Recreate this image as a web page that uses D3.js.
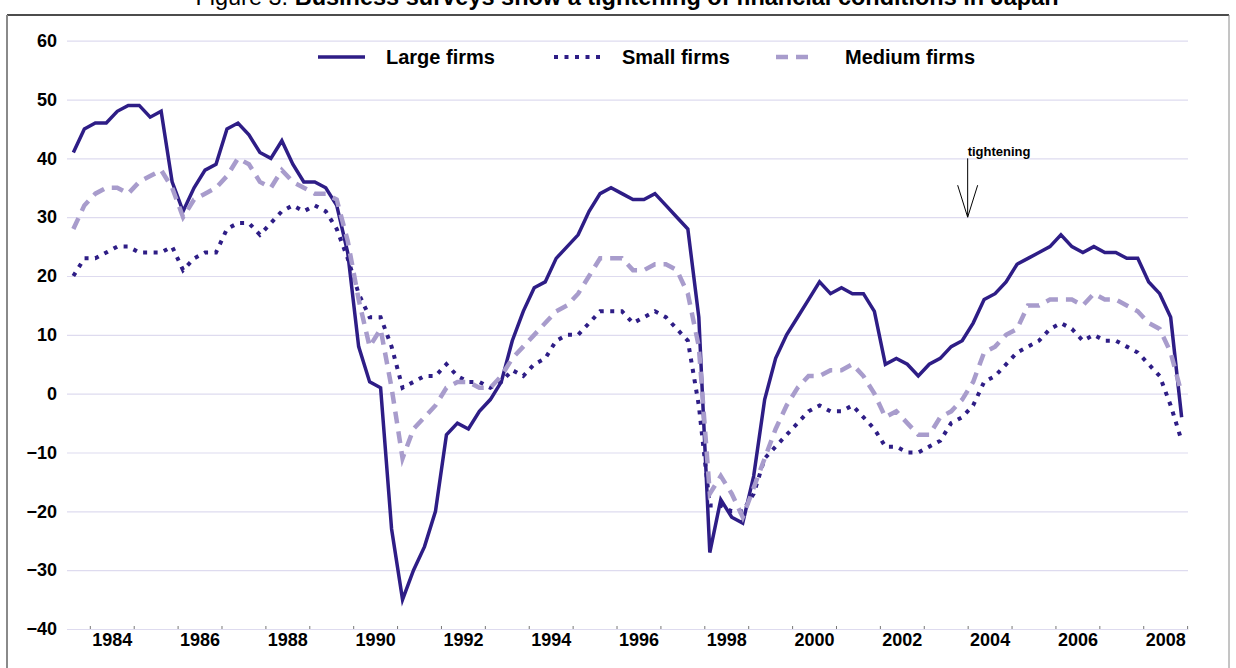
<!DOCTYPE html>
<meta charset="utf-8">
<head>
	<script src="https://d3js.org/d3.v7.min.js"></script>
	<style>
		body {
			margin: 0;
			background: #fff;
		}
		svg text {
			font-family: "Liberation Sans", Arial, sans-serif;
			fill: #000;
		}
		.grid line {
			stroke: #dedbef;
			stroke-width: 1.2;
		}
		.grid path {
			display: none;
		}
		.y.axis text {
			font-size: 18px;
			font-weight: bold;
		}
		.x.axis path {
			stroke: #dedbef;
			stroke-width: 1.2;
		}
		.x.axis line {
			stroke: #777;
		}
		.xlabels path, .xlabels line {
			display: none;
		}
		.xlabels text {
			font-size: 18px;
			font-weight: bold;
		}
		.series {
			fill: none;
		}
		.legend text {
			font-size: 20px;
			font-weight: bold;
		}
	</style>
</head>

<body>
	<div id="chart"></div>
</body>

<script type="text/javascript">

	// quarterly survey, first point 1983 Q3
	var firstYear = 1983, firstQuarter = 3;

	var largeFirms = [41, 45, 46, 46, 48, 49, 49, 47, 48, 36,
		31, 35, 38, 39, 45, 46, 44, 41, 40, 43,
		39, 36, 36, 35, 32, 24, 8, 2, 1, -23,
		-35, -30, -26, -20, -7, -5, -6, -3, -1, 2,
		9, 14, 18, 19, 23, 25, 27, 31, 34, 35,
		34, 33, 33, 34, 32, 30, 28, 13, -27, -18,
		-21, -22, -14, -1, 6, 10, 13, 16, 19, 17,
		18, 17, 17, 14, 5, 6, 5, 3, 5, 6,
		8, 9, 12, 16, 17, 19, 22, 23, 24, 25,
		27, 25, 24, 25, 24, 24, 23, 23, 19, 17,
		13, -4];

	var smallFirms = [20, 23, 23, 24, 25, 25, 24, 24, 24, 25,
		21, 23, 24, 24, 28, 29, 29, 27, 29, 31,
		32, 31, 32, 31, 28, 23, 17, 13, 13, 8,
		1, 2, 3, 3, 5, 3, 2, 2, 1, 2,
		4, 3, 5, 6, 9, 10, 10, 12, 14, 14,
		14, 12, 13, 14, 13, 11, 9, -2, -19, -19,
		-20, -20, -17, -11, -9, -7, -5, -3, -2, -3,
		-3, -2, -4, -6, -9, -9, -10, -10, -9, -8,
		-5, -4, -2, 2, 3, 5, 7, 8, 9, 11,
		12, 11, 9, 10, 9, 9, 8, 7, 5, 3,
		-2, -8];

	var mediumFirms = [28, 32, 34, 35, 35, 34, 36, 37, 38, 35,
		30, 33, 34, 35, 37, 40, 39, 36, 35, 38,
		36, 35, 34, 34, 33, 26, 16, 8, 11, 1,
		-11, -6, -4, -2, 1, 2, 2, 1, 1, 3,
		6, 8, 10, 12, 14, 15, 17, 20, 23, 23,
		23, 21, 21, 22, 22, 21, 17, 8, -17, -14,
		-17, -21, -16, -11, -6, -2, 1, 3, 3, 4,
		4, 5, 3, 0, -4, -3, -5, -7, -7, -4,
		-3, -1, 2, 7, 8, 10, 11, 15, 15, 16,
		16, 16, 15, 17, 16, 16, 15, 14, 12, 11,
		7, 0];

	var yTicks = [-40, -30, -20, -10, 0, 10, 20, 30, 40, 50, 60];
	var yearTicks = d3.range(1984, 2010);
	var yearLabels = [1984, 1986, 1988, 1990, 1992, 1994, 1996, 1998, 2000, 2002, 2004, 2006, 2008];
	var legendNames = ["Large firms", "Small firms", "Medium firms"];
	var titleLead = "Figure 3. ";
	var titleText = "Business surveys show a tightening of financial conditions in Japan";
	var noteText = "tightening";
	var noteYear = 2004, noteFrom = 40, noteTo = 30;

	// mid-quarter position in decimal years
	var quarters = largeFirms.map(function(d, i) {
		var q = firstQuarter - 1 + i;
		return firstYear + Math.floor(q / 4) + (q % 4) * 0.25 + 0.125;
	});

	var W = 1236, H = 668;
	var plot = {left: 67, right: 1188, top: 40.7, bottom: 629};

	var x = d3.scaleLinear()
		.domain([1983.48, 2009.02])
		.range([plot.left, plot.right]);

	var y = d3.scaleLinear()
		.domain([-40, 60])
		.range([plot.bottom, plot.top]);

	var svg = d3.select("#chart").append("svg")
		.attr("width", W)
		.attr("height", H);

	// frame and title
	svg.append("line")
		.attr("x1", 7).attr("x2", 1229)
		.attr("y1", 15).attr("y2", 15)
		.style("stroke", "#111").style("stroke-width", 1.5);
	svg.append("line")
		.attr("x1", 7).attr("x2", 7)
		.attr("y1", 15).attr("y2", H)
		.style("stroke", "#8a8a8a").style("stroke-width", 2);
	svg.append("line")
		.attr("x1", 1229).attr("x2", 1229)
		.attr("y1", 15).attr("y2", H)
		.style("stroke", "#8a8a8a").style("stroke-width", 1);

	// title sits mostly above the page edge, as in the source
	var title = svg.append("text")
		.attr("x", 627)
		.attr("y", 5)
		.style("text-anchor", "middle")
		.style("font-size", "23.5px");
	title.append("tspan").text(titleLead);
	title.append("tspan").style("font-weight", "bold").text(titleText);

	// horizontal grid + y labels
	var yAxis = d3.axisLeft(y)
		.tickValues(yTicks)
		.tickSizeInner(-(plot.right - plot.left))
		.tickSizeOuter(0)
		.tickPadding(10);

	svg.append("g")
		.attr("class", "grid y axis")
		.attr("transform", "translate(" + plot.left + ",0)")
		.call(yAxis);

	// x axis: year ticks pointing up, labels centred on the year
	var xAxis = d3.axisBottom(x)
		.tickValues(yearTicks)
		.tickSizeInner(-3)
		.tickSizeOuter(0)
		.tickFormat("");

	svg.append("g")
		.attr("class", "x axis")
		.attr("transform", "translate(0," + plot.bottom + ")")
		.call(xAxis);

	var xLabels = d3.axisBottom(x)
		.tickValues(yearLabels.map(function(d) { return d + 0.5; }))
		.tickSize(0)
		.tickPadding(4)
		.tickFormat(function(d) { return Math.floor(d); });

	svg.append("g")
		.attr("class", "xlabels")
		.attr("transform", "translate(0," + plot.bottom + ")")
		.call(xLabels);

	// series
	var series = [
		{name: legendNames[0], values: largeFirms, color: "#2e1d86", width: 3.5, dash: null},
		{name: legendNames[1], values: smallFirms, color: "#2e1d86", width: 4, dash: "4,6.5"},
		{name: legendNames[2], values: mediumFirms, color: "#a89ccc", width: 4.5, dash: "12,8"}
	];

	var line = d3.line()
		.x(function(d, i) { return x(quarters[i]); })
		.y(function(d) { return y(d); });

	svg.append("g")
		.attr("class", "lines")
		.selectAll("path")
		.data(series)
		.enter().append("path")
		.attr("class", "series")
		.attr("d", function(d) { return line(d.values); })
		.style("stroke", function(d) { return d.color; })
		.style("stroke-width", function(d) { return d.width; })
		.style("stroke-dasharray", function(d) { return d.dash; })
		.style("stroke-linejoin", "miter");

	// legend
	var legendPos = [{x1: 318, x2: 365, tx: 386}, {x1: 554, x2: 602, tx: 622}, {x1: 776, x2: 814, tx: 845}];
	var legendY = 57;

	var legend = svg.append("g")
		.attr("class", "legend")
		.selectAll("g")
		.data(series)
		.enter().append("g");

	legend.append("line")
		.attr("x1", function(d, i) { return legendPos[i].x1; })
		.attr("x2", function(d, i) { return legendPos[i].x2; })
		.attr("y1", legendY).attr("y2", legendY)
		.style("stroke", function(d) { return d.color; })
		.style("stroke-width", function(d) { return d.width; })
		.style("stroke-dasharray", function(d) { return d.dash; });

	legend.append("text")
		.attr("x", function(d, i) { return legendPos[i].tx; })
		.attr("y", legendY)
		.attr("dy", ".35em")
		.text(function(d) { return d.name; });

	// tightening arrow
	var ax = x(noteYear);
	var note = svg.append("g").attr("class", "note");
	note.append("text")
		.attr("x", ax)
		.attr("y", y(noteFrom) - 2)
		.style("font-size", "13px")
		.style("font-weight", "bold")
		.text(noteText);
	note.append("path")
		.attr("d", "M" + ax + "," + y(noteFrom) + "V" + y(noteTo)
			+ "M" + (ax - 10) + "," + (y(noteTo) - 32) + "L" + ax + "," + y(noteTo)
			+ "L" + (ax + 10) + "," + (y(noteTo) - 32))
		.style("fill", "none")
		.style("stroke", "#000")
		.style("stroke-width", 1);
</script>
